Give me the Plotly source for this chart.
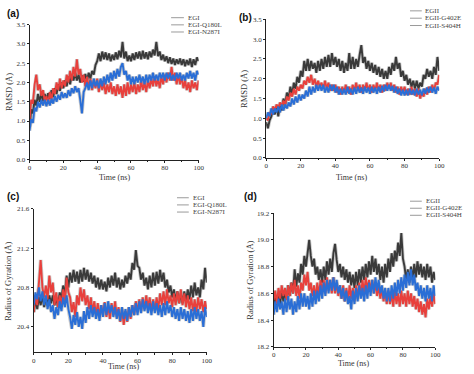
import plotly.graph_objects as go

time_ns = list(range(0, 101))

# Panel (a) RMSD, EGI family
rmsd_EGI = [0.85, 1.30, 1.20, 1.55, 1.40, 1.70, 1.50, 1.72, 1.52, 1.70, 1.55,
            1.72, 1.58, 1.80, 1.62, 1.85, 1.70, 1.95, 1.78, 2.00, 1.85,
            2.05, 1.90, 2.15, 1.95, 2.20, 2.05, 2.25, 2.05, 2.20, 2.00,
            2.18, 2.02, 2.22, 2.05, 2.25, 2.10, 2.30, 2.20, 2.45, 2.55,
            2.75, 2.55, 2.80, 2.60, 2.78, 2.58, 2.75, 2.55, 2.72, 2.58,
            2.78, 2.60, 2.82, 2.65, 3.05, 2.62, 2.80, 2.55, 2.70, 2.55,
            2.75, 2.58, 2.78, 2.62, 2.80, 2.60, 2.82, 2.62, 2.78, 2.60,
            2.80, 2.65, 2.85, 2.70, 3.05, 2.68, 2.80, 2.58, 2.72, 2.55,
            2.68, 2.50, 2.65, 2.48, 2.62, 2.45, 2.60, 2.48, 2.62, 2.45,
            2.60, 2.42, 2.58, 2.45, 2.62, 2.40, 2.60, 2.45, 2.65, 2.55]
rmsd_EGI_Q180L = [1.00, 1.55, 1.45, 1.95, 2.20, 1.80, 1.95, 1.65, 1.80, 1.50, 1.65,
                  1.45, 1.75, 1.55, 1.85, 1.70, 2.00, 1.80, 2.10, 1.85, 2.05,
                  1.90, 2.20, 2.00, 2.30, 2.05, 2.40, 2.15, 2.60, 2.20, 2.35,
                  2.00, 2.20, 1.90, 2.15, 1.85, 2.10, 1.80, 2.05, 1.85, 2.10,
                  1.75, 2.05, 1.80, 2.00, 1.70, 1.95, 1.75, 2.00, 1.70, 1.90,
                  1.65, 1.95, 1.70, 1.90, 1.60, 1.95, 1.65, 2.00, 1.70, 1.95,
                  1.75, 2.00, 1.70, 1.95, 1.75, 2.05, 1.80, 2.00, 1.75, 2.05,
                  1.85, 2.10, 1.90, 2.15, 1.90, 2.10, 1.85, 2.15, 1.95, 2.20,
                  2.00, 2.25, 2.05, 2.40, 2.05, 2.25, 1.95, 2.20, 1.95, 2.15,
                  1.85, 2.05, 1.80, 2.00, 1.75, 2.05, 1.85, 2.00, 1.80, 2.05]
rmsd_EGI_N287I = [0.75, 1.05, 0.95, 1.35, 1.25, 1.50, 1.35, 1.55, 1.40, 1.55, 1.38,
                  1.55, 1.40, 1.58, 1.45, 1.65, 1.50, 1.68, 1.55, 1.75, 1.60,
                  1.72, 1.60, 1.80, 1.65, 1.85, 1.72, 1.90, 1.75, 1.85, 1.55,
                  1.20, 1.75, 1.85, 2.00, 1.80, 2.05, 1.85, 2.10, 1.90, 2.05,
                  1.85, 2.10, 1.90, 2.15, 1.95, 2.20, 2.00, 2.25, 2.05, 2.30,
                  2.10, 2.35, 2.15, 2.40, 2.50, 2.20, 2.30, 2.05, 2.20, 1.95,
                  2.15, 1.95, 2.15, 2.00, 2.20, 2.00, 2.15, 1.95, 2.20, 2.00,
                  2.20, 2.05, 2.25, 2.05, 2.20, 2.05, 2.25, 2.10, 2.25, 2.05,
                  2.25, 2.10, 2.25, 2.05, 2.20, 2.05, 2.25, 2.10, 2.25, 2.05,
                  2.20, 2.05, 2.25, 2.10, 2.30, 2.10, 2.25, 2.05, 2.30, 2.20]

# Panel (b) RMSD, EGII family
rmsd_EGII = [0.90, 0.75, 0.95, 1.05, 1.25, 1.10, 1.30, 1.05, 1.35, 1.20, 1.50,
             1.35, 1.65, 1.50, 1.80, 1.60, 1.90, 1.75, 2.05, 1.90, 2.20,
             2.05, 2.45, 2.20, 2.50, 2.20, 2.45, 2.25, 2.40, 2.15, 2.45,
             2.20, 2.50, 2.25, 2.55, 2.30, 2.60, 2.30, 2.65, 2.35, 2.55,
             2.30, 2.50, 2.20, 2.45, 2.15, 2.40, 2.20, 2.65, 2.25, 2.55,
             2.25, 2.50, 2.30, 2.60, 2.85, 2.40, 2.55, 2.25, 2.45, 2.20,
             2.40, 2.15, 2.35, 2.10, 2.30, 2.05, 2.25, 2.00, 2.20, 2.00,
             2.30, 2.10, 2.40, 2.20, 2.55, 2.25, 2.40, 2.05, 2.20, 1.95,
             2.10, 1.85, 2.00, 1.80, 1.95, 1.75, 1.95, 1.75, 1.90, 1.80,
             2.10, 2.00, 2.25, 2.05, 2.20, 2.00, 2.30, 2.10, 2.55, 2.20]
rmsd_EGII_G402E = [1.00, 0.95, 1.15, 1.10, 1.30, 1.20, 1.35, 1.25, 1.40, 1.30, 1.45,
                   1.35, 1.55, 1.45, 1.65, 1.55, 1.75, 1.60, 1.80, 1.70, 1.85,
                   1.75, 1.95, 1.85, 2.05, 1.90, 2.10, 1.85, 2.00, 1.80, 1.95,
                   1.80, 1.90, 1.75, 1.95, 1.75, 1.90, 1.70, 1.85, 1.70, 1.85,
                   1.65, 1.80, 1.60, 1.80, 1.65, 1.85, 1.65, 1.80, 1.60, 1.85,
                   1.70, 1.90, 1.70, 1.85, 1.65, 1.85, 1.70, 1.90, 1.70, 1.85,
                   1.65, 1.85, 1.70, 1.90, 1.70, 1.85, 1.65, 1.85, 1.70, 1.90,
                   1.75, 1.90, 1.70, 1.85, 1.65, 1.80, 1.60, 1.80, 1.65, 1.80,
                   1.60, 1.75, 1.60, 1.80, 1.60, 1.75, 1.55, 1.75, 1.50, 1.65,
                   1.55, 1.75, 1.60, 1.80, 1.65, 1.85, 1.70, 1.90, 1.85, 2.10]
rmsd_EGII_S404H = [1.00, 1.15, 1.05, 1.25, 1.10, 1.25, 1.15, 1.30, 1.15, 1.35, 1.20,
                   1.35, 1.25, 1.40, 1.30, 1.50, 1.35, 1.55, 1.40, 1.60, 1.45,
                   1.60, 1.50, 1.70, 1.55, 1.80, 1.60, 1.80, 1.65, 1.85, 1.70,
                   1.85, 1.70, 1.85, 1.65, 1.80, 1.65, 1.85, 1.70, 1.85, 1.65,
                   1.80, 1.60, 1.75, 1.60, 1.75, 1.60, 1.80, 1.62, 1.75, 1.60,
                   1.78, 1.62, 1.80, 1.65, 1.78, 1.62, 1.80, 1.65, 1.78, 1.62,
                   1.80, 1.65, 1.78, 1.62, 1.80, 1.65, 1.82, 1.68, 1.85, 1.70,
                   1.85, 1.70, 1.82, 1.65, 1.80, 1.62, 1.75, 1.58, 1.72, 1.58,
                   1.72, 1.58, 1.75, 1.60, 1.72, 1.58, 1.75, 1.60, 1.72, 1.58,
                   1.75, 1.62, 1.78, 1.65, 1.80, 1.65, 1.78, 1.62, 1.80, 1.70]

# Panel (c) Radius of gyration, EGI family
rg_EGI = [20.55, 20.68, 20.58, 20.70, 20.62, 20.72, 20.60, 20.70, 20.62, 20.72, 20.64,
          20.72, 20.62, 20.70, 20.60, 20.75, 20.68, 20.82, 20.72, 20.92, 20.80,
          20.95, 20.85, 20.98, 20.86, 20.96, 20.84, 20.98, 20.86, 21.00, 20.88,
          20.98, 20.86, 20.95, 20.84, 20.92, 20.80, 20.90, 20.78, 20.88, 20.78,
          20.86, 20.76, 20.90, 20.80, 20.92, 20.82, 20.95, 20.80, 20.90, 20.78,
          20.88, 20.80, 20.92, 20.84, 20.95, 20.88, 21.05, 20.98, 21.18, 21.02,
          21.00, 20.88, 20.95, 20.82, 20.90, 20.78, 20.92, 20.80, 20.95, 20.82,
          20.96, 20.84, 20.98, 20.86, 20.95, 20.80, 20.88, 20.75, 20.82, 20.70,
          20.78, 20.66, 20.76, 20.64, 20.74, 20.64, 20.76, 20.66, 20.78, 20.68,
          20.82, 20.70, 20.85, 20.72, 20.80, 20.70, 20.88, 20.78, 21.00, 20.85]
rg_EGI_Q180L = [20.55, 20.72, 20.62, 20.85, 21.08, 20.80, 20.70, 20.82, 20.68, 20.92, 20.75,
                20.85, 20.62, 20.75, 20.60, 20.72, 20.62, 20.78, 20.66, 20.90, 20.75,
                20.70, 20.55, 20.65, 20.50, 20.72, 20.62, 20.80, 20.66, 20.78, 20.62,
                20.72, 20.58, 20.70, 20.55, 20.66, 20.52, 20.64, 20.50, 20.62, 20.52,
                20.65, 20.50, 20.62, 20.48, 20.64, 20.52, 20.66, 20.50, 20.60, 20.45,
                20.58, 20.42, 20.56, 20.45, 20.60, 20.48, 20.62, 20.52, 20.66, 20.55,
                20.68, 20.56, 20.70, 20.58, 20.72, 20.60, 20.70, 20.56, 20.68, 20.56,
                20.70, 20.58, 20.74, 20.62, 20.76, 20.62, 20.78, 20.64, 20.72, 20.60,
                20.74, 20.62, 20.76, 20.64, 20.78, 20.62, 20.74, 20.60, 20.72, 20.58,
                20.70, 20.56, 20.68, 20.55, 20.70, 20.58, 20.68, 20.55, 20.66, 20.58]
rg_EGI_N287I = [20.62, 20.75, 20.68, 20.80, 20.66, 20.76, 20.62, 20.72, 20.58, 20.68, 20.55,
                20.62, 20.48, 20.60, 20.52, 20.66, 20.56, 20.70, 20.60, 20.72, 20.58,
                20.50, 20.38, 20.52, 20.42, 20.55, 20.40, 20.50, 20.38, 20.56, 20.44,
                20.60, 20.48, 20.62, 20.50, 20.60, 20.48, 20.58, 20.46, 20.62, 20.50,
                20.64, 20.52, 20.66, 20.54, 20.62, 20.50, 20.60, 20.48, 20.58, 20.46,
                20.60, 20.48, 20.58, 20.46, 20.60, 20.50, 20.62, 20.52, 20.64, 20.52,
                20.66, 20.54, 20.68, 20.56, 20.66, 20.54, 20.64, 20.52, 20.66, 20.54,
                20.64, 20.52, 20.62, 20.50, 20.64, 20.52, 20.66, 20.54, 20.62, 20.50,
                20.60, 20.48, 20.58, 20.46, 20.60, 20.48, 20.58, 20.46, 20.56, 20.44,
                20.58, 20.46, 20.60, 20.48, 20.58, 20.46, 20.56, 20.40, 20.60, 20.50]

# Panel (d) Radius of gyration, EGII family
rg_EGII = [18.48, 18.58, 18.50, 18.60, 18.52, 18.62, 18.54, 18.62, 18.55, 18.66, 18.58,
           18.68, 18.60, 18.78, 18.65, 18.75, 18.68, 18.82, 18.74, 18.88, 18.80,
           18.92, 19.00, 18.88, 18.80, 18.86, 18.74, 18.80, 18.70, 18.78, 18.68,
           18.80, 18.70, 18.84, 18.74, 18.86, 18.76, 18.90, 18.97, 18.85, 18.76,
           18.82, 18.72, 18.80, 18.70, 18.78, 18.68, 18.76, 18.66, 18.74, 18.64,
           18.76, 18.66, 18.78, 18.68, 18.80, 18.70, 18.82, 18.72, 18.84, 18.74,
           18.88, 18.76, 18.86, 18.74, 18.82, 18.70, 18.80, 18.68, 18.82, 18.72,
           18.86, 18.76, 18.90, 18.80, 18.92, 18.84, 18.98, 18.88, 19.05, 18.86,
           18.80, 18.70, 18.78, 18.68, 18.80, 18.70, 18.82, 18.72, 18.84, 18.74,
           18.82, 18.72, 18.80, 18.70, 18.82, 18.72, 18.80, 18.68, 18.76, 18.70]
rg_EGII_G402E = [18.55, 18.62, 18.52, 18.64, 18.56, 18.66, 18.58, 18.64, 18.55, 18.66, 18.58,
                 18.68, 18.60, 18.70, 18.58, 18.66, 18.56, 18.68, 18.62, 18.74, 18.66,
                 18.76, 18.62, 18.68, 18.58, 18.66, 18.56, 18.68, 18.58, 18.70, 18.60,
                 18.70, 18.60, 18.72, 18.62, 18.70, 18.60, 18.72, 18.60, 18.68, 18.58,
                 18.66, 18.56, 18.66, 18.54, 18.64, 18.54, 18.66, 18.56, 18.64, 18.54,
                 18.66, 18.56, 18.68, 18.58, 18.70, 18.60, 18.72, 18.62, 18.70, 18.62,
                 18.70, 18.60, 18.68, 18.58, 18.66, 18.56, 18.64, 18.54, 18.62, 18.52,
                 18.62, 18.52, 18.60, 18.50, 18.62, 18.52, 18.60, 18.50, 18.62, 18.52,
                 18.60, 18.50, 18.62, 18.52, 18.60, 18.50, 18.58, 18.48, 18.56, 18.46,
                 18.54, 18.44, 18.52, 18.42, 18.56, 18.48, 18.58, 18.50, 18.60, 18.52]
rg_EGII_S404H = [18.44, 18.54, 18.46, 18.56, 18.48, 18.54, 18.44, 18.56, 18.46, 18.58, 18.48,
                 18.56, 18.44, 18.54, 18.46, 18.58, 18.48, 18.60, 18.50, 18.60, 18.50,
                 18.58, 18.48, 18.60, 18.50, 18.62, 18.52, 18.62, 18.54, 18.66, 18.56,
                 18.68, 18.58, 18.70, 18.60, 18.70, 18.62, 18.72, 18.62, 18.70, 18.60,
                 18.66, 18.56, 18.64, 18.54, 18.62, 18.52, 18.58, 18.48, 18.62, 18.52,
                 18.64, 18.54, 18.66, 18.56, 18.64, 18.54, 18.66, 18.56, 18.68, 18.58,
                 18.70, 18.60, 18.72, 18.62, 18.70, 18.60, 18.66, 18.56, 18.64, 18.54,
                 18.64, 18.54, 18.66, 18.56, 18.68, 18.58, 18.70, 18.60, 18.72, 18.62,
                 18.74, 18.64, 18.76, 18.66, 18.78, 18.66, 18.74, 18.62, 18.68, 18.58,
                 18.66, 18.56, 18.64, 18.54, 18.66, 18.56, 18.64, 18.54, 18.66, 18.58]

names_a = ["EGI", "EGI-Q180L", "EGI-N287I"]
names_b = ["EGII", "EGII-G402E", "EGII-S404H"]
x_ticks = [0, 20, 40, 60, 80, 100]
rmsd_ticks = [0.0, 0.5, 1.0, 1.5, 2.0, 2.5, 3.0, 3.5]
rg_ticks_c = [20.4, 20.8, 21.2, 21.6]
rg_ticks_d = [18.2, 18.4, 18.6, 18.8, 19.0, 19.2]

COLORS = ["#3a3a3a", "#e8403c", "#2a6ed6"]
HALO = "rgba(150,150,150,0.5)"
SERIF = "Liberation Serif"
W, H = 474, 374

fig = go.Figure()

panels = [
    dict(ax="", names=names_a, data=[rmsd_EGI, rmsd_EGI_Q180L, rmsd_EGI_N287I],
         xd=(28, 200), yd=(21, 159), yr=[0, 3.5], yt=rmsd_ticks,
         ytitle="RMSD (Å)", label="(a)", lab_xy=(4, 10),
         xt_xy=(114, 177), yt_xy=(7, 90), leg=(172, 185, 188, 14, 7.3)),
    dict(ax="2", names=names_b, data=[rmsd_EGII, rmsd_EGII_G402E, rmsd_EGII_S404H],
         xd=(268.7, 444.7), yd=(15.7, 157.3), yr=[0, 3.5], yt=rmsd_ticks,
         ytitle="RMSD (Å)", label="(b)", lab_xy=(240, 14),
         xt_xy=(356, 177), yt_xy=(246, 87), leg=(415, 427, 429, 7, 7.5)),
    dict(ax="3", names=names_a, data=[rg_EGI, rg_EGI_Q180L, rg_EGI_N287I],
         xd=(32.3, 208.3), yd=(209.3, 356), yr=[20.14, 21.6], yt=rg_ticks_c,
         ytitle="Radius of Gyration (Å)", label="(c)", lab_xy=(4, 197),
         xt_xy=(123.5, 370.3), yt_xy=(6, 283), leg=(178, 190, 193, 198, 7.3)),
    dict(ax="4", names=names_b, data=[rg_EGII, rg_EGII_G402E, rg_EGII_S404H],
         xd=(276.3, 440.7), yd=(213.7, 350.3), yr=[18.2, 19.2], yt=rg_ticks_d,
         ytitle="Radius of Gyration (Å)", label="(d)", lab_xy=(245, 197),
         xt_xy=(358, 367), yt_xy=(252, 282), leg=(415, 427, 430, 201.5, 7.2)),
]

annotations = []
shapes = []
for p in panels:
    ax = p["ax"]
    for ys in p["data"]:
        fig.add_trace(go.Scatter(x=time_ns, y=ys, mode="lines", showlegend=False,
                                 line=dict(color=HALO, width=3.6),
                                 xaxis="x" + ax, yaxis="y" + ax, hoverinfo="skip"))
    for name, ys, col in zip(p["names"], p["data"], COLORS):
        fig.add_trace(go.Scatter(x=time_ns, y=ys, mode="lines", name=name, showlegend=False,
                                 line=dict(color=col, width=1.9),
                                 xaxis="x" + ax, yaxis="y" + ax))
    x0, x1 = p["xd"]
    yt, yb = p["yd"]
    axis_common = dict(showline=True, linecolor="#222", linewidth=1, ticks="outside",
                       ticklen=2, tickcolor="#222", showgrid=False, zeroline=False,
                       tickfont=dict(family=SERIF, size=7, color="#333"))
    fig.layout["xaxis" + ax] = dict(domain=[x0 / W, x1 / W], range=[0, 100],
                                    tickvals=x_ticks, anchor="y" + ax, ticklabelstandoff=-1,
                                    minor=dict(ticks="outside", ticklen=1.5, dtick=10, tickcolor="#222"),
                                    **axis_common)
    fig.layout["yaxis" + ax] = dict(domain=[1 - yb / H, 1 - yt / H], range=p["yr"],
                                    tickvals=p["yt"], tickformat=".1f", anchor="x" + ax,
                                    **axis_common)
    annotations.append(dict(text="Time (ns)", x=p["xt_xy"][0] / W, y=1 - p["xt_xy"][1] / H,
                            xref="paper", yref="paper", xanchor="center", yanchor="middle",
                            showarrow=False, borderpad=0,
                            font=dict(family=SERIF, size=8, color="#333")))
    annotations.append(dict(text=p["ytitle"], x=p["yt_xy"][0] / W, y=1 - p["yt_xy"][1] / H,
                            xref="paper", yref="paper", xanchor="center", yanchor="middle",
                            textangle=-90, showarrow=False, borderpad=0,
                            font=dict(family=SERIF, size=8.5, color="#333")))
    annotations.append(dict(text="<b>%s</b>" % p["label"], x=p["lab_xy"][0] / W, y=1 - p["lab_xy"][1] / H,
                            xref="paper", yref="paper", xanchor="left", yanchor="middle",
                            showarrow=False, borderpad=0,
                            font=dict(family="Liberation Sans", size=10, color="#111")))
    lx0, lx1, tx, ly0, dy = p["leg"]
    for i, name in enumerate(p["names"]):
        yy = 1 - (ly0 + i * dy) / H
        shapes.append(dict(type="line", xref="paper", yref="paper", x0=lx0 / W, x1=lx1 / W,
                           y0=yy, y1=yy, line=dict(color="#9a9a9a", width=1)))
        annotations.append(dict(text=name, x=tx / W, y=yy, xref="paper", yref="paper",
                                xanchor="left", yanchor="middle", showarrow=False, borderpad=0,
                                font=dict(family=SERIF, size=7, color="#444")))

fig.update_layout(width=W, height=H, margin=dict(l=0, r=0, t=0, b=0),
                  paper_bgcolor="white", plot_bgcolor="white",
                  annotations=annotations, shapes=shapes, showlegend=False)

fig.write_html("out.html", config={"displayModeBar": False},
               post_script="document.body.style.margin='0';document.body.style.overflow='hidden';")
